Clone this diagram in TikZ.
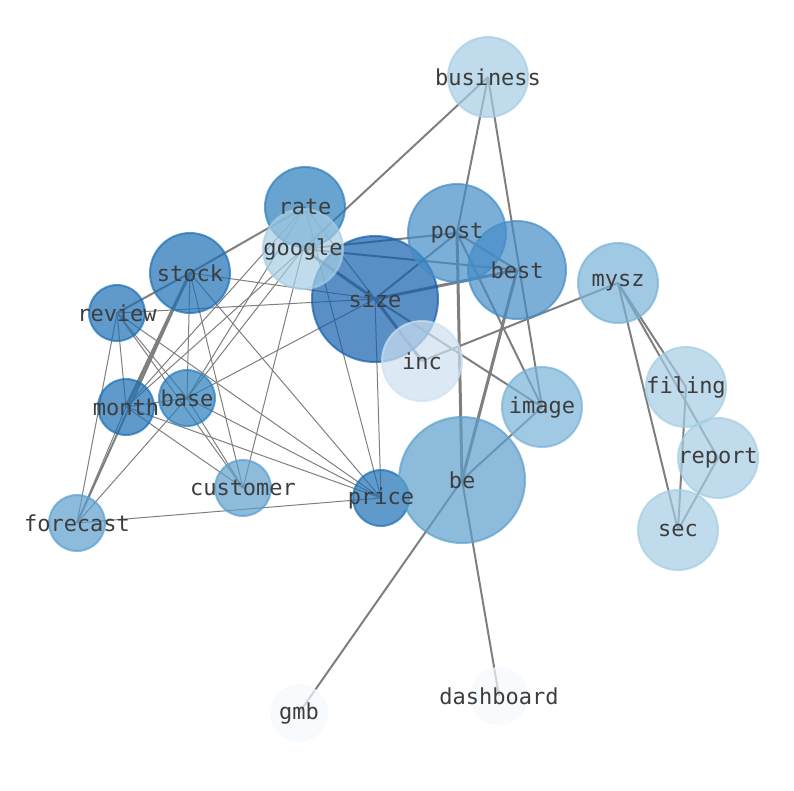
\documentclass[tikz,border=0pt]{standalone}
\usepackage{fontspec}
\setmonofont{DejaVu Sans Mono}
\pgfdeclarelayer{bg}
\pgfdeclarelayer{fg}
\pgfsetlayers{bg,main,fg}
\definecolor{cA}{HTML}{F5F9FE}
\definecolor{cB}{HTML}{CDE0F1}
\definecolor{cC}{HTML}{A5CDE4}
\definecolor{cD}{HTML}{78B2D7}
\definecolor{cE}{HTML}{5C9ECD}
\definecolor{cF}{HTML}{448DC7}
\definecolor{cG}{HTML}{2A7EBC}
\definecolor{cH}{HTML}{1B6FB5}
\definecolor{cI}{HTML}{145FAE}
\definecolor{edgegray}{HTML}{7F7F7F}
\tikzset{
  vert/.style={circle, inner sep=0pt, line width=2pt, fill opacity=0.7, draw opacity=0.7},
  lbl/.style={font=\ttfamily\fontsize{22}{26}\selectfont, text=black!76, inner sep=0pt},
  ethin/.style={draw=edgegray, line width=1pt},
  emid/.style={draw=edgegray, line width=2pt},
  ethick/.style={draw=edgegray, line width=3pt},
}
\newcommand\gnode[5]{%
  \node[vert, minimum size=#4*2pt, fill=#5, draw=#5] (#1) at (#2,#3) {};
  \begin{pgfonlayer}{fg}\node[lbl] (t-#1) at (#1.center) {#1};\end{pgfonlayer}}
\begin{document}
\begin{tikzpicture}[x=1pt,y=-1pt]
\useasboundingbox (0,0) rectangle (794,790);
% nodes (drawing order bottom to top)
\gnode{rate}{305}{207}{40}{cG}
\gnode{size}{375}{299}{63}{cI}
\gnode{google}{303}{249}{40}{cC}
\gnode{post}{457}{233}{49}{cF}
\gnode{best}{517}{270}{49}{cF}
\gnode{stock}{190}{273}{40}{cH}
\gnode{review}{117}{313}{28}{cH}
\gnode{month}{126}{407}{28}{cH}
\gnode{base}{187}{398}{28}{cG}
\gnode{customer}{243}{488}{28}{cE}
\gnode{forecast}{77}{523}{28}{cE}
\gnode{price}{381}{498}{28}{cH}
\gnode{be}{462}{480}{63}{cE}
\gnode{image}{542}{407}{40}{cD}
\gnode{inc}{422}{361}{40}{cB}
\gnode{business}{488}{77}{40}{cC}
\gnode{mysz}{618}{283}{40}{cD}
\gnode{filing}{686}{387}{40}{cC}
\gnode{report}{718}{458}{40}{cC}
\gnode{sec}{678}{530}{40}{cC}
\gnode{gmb}{299}{713}{28}{cA}
\gnode{dashboard}{499}{696}{28}{cA}
% edges
\begin{pgfonlayer}{bg}
\foreach \a/\b in {review/size, stock/size, review/month, review/forecast, review/customer,
  review/price, review/base, stock/base, stock/customer, stock/price, month/customer,
  month/price, month/rate, month/google, month/base, base/google, base/size, base/customer,
  base/price, base/forecast, rate/base, rate/price, rate/size, google/customer,
  forecast/month, forecast/price, size/price}
  \draw[ethin] (\a.center) -- (\b.center);
\foreach \a/\b in {review/stock, stock/rate, forecast/stock, google/post, google/best,
  size/post, size/image, business/post, business/image, business/google, be/gmb,
  be/dashboard, image/be, inc/mysz, mysz/sec, mysz/report, mysz/filing, filing/sec,
  report/sec, post/image, post/best}
  \draw[emid] (\a.center) -- (\b.center);
\foreach \a/\b in {month/stock, size/google, size/best, size/inc, post/be, best/be}
  \draw[ethick] (\a.center) -- (\b.center);
\end{pgfonlayer}
\end{tikzpicture}
\end{document}
